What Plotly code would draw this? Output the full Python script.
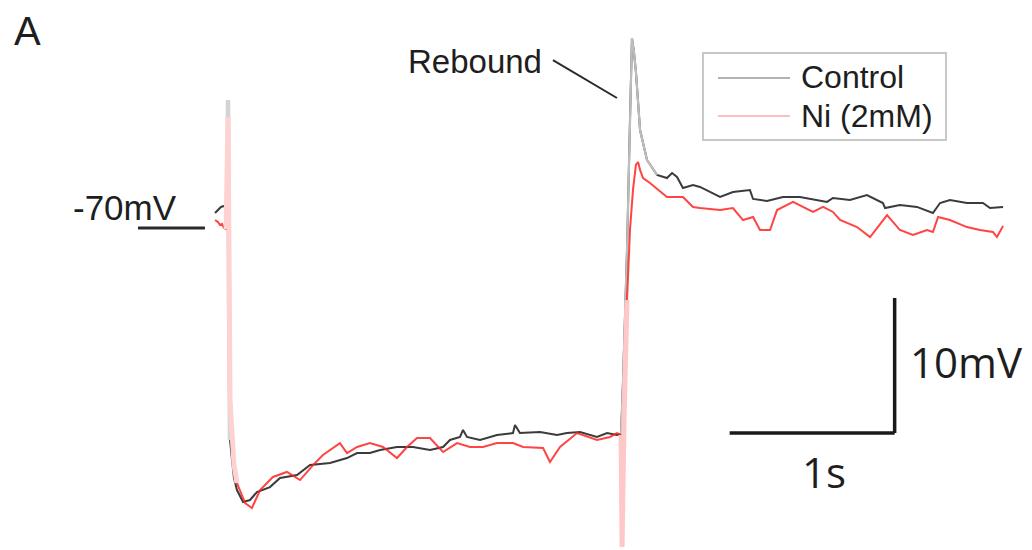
import plotly.graph_objects as go

# ---------------- data (time in s, membrane potential in mV) ----------------
ctrl_t = [0.091, 0.109, 0.127, 0.145, 0.164, 0.170, 0.176, 0.182, 0.194, 0.206,
          0.224, 0.261, 0.303, 0.345, 0.424, 0.485, 0.588, 0.667, 0.788, 0.891,
          0.952, 1.030, 1.091, 1.194, 1.291, 1.394, 1.473, 1.515, 1.576, 1.594,
          1.618, 1.697, 1.800, 1.897, 1.909, 1.939, 2.061, 2.164, 2.224, 2.303,
          2.406, 2.467, 2.527, 2.552, 2.564, 2.588, 2.606, 2.618, 2.630, 2.642,
          2.667, 2.709, 2.770, 2.830, 2.861, 2.891, 2.927, 2.988, 3.030, 3.152,
          3.230, 3.333, 3.352, 3.436, 3.533, 3.636, 3.800, 3.836, 3.939, 4.042,
          4.139, 4.152, 4.242, 4.345, 4.442, 4.485, 4.545, 4.648, 4.745, 4.788,
          4.867]
ctrl_v = [-68.89, -68.67, -68.44, -68.37, -68.30, -60.52, -75.33, -85.70, -87.19, -88.52,
          -89.41, -90.30, -90.15, -89.56, -89.19, -88.52, -88.30, -87.56, -87.41, -87.04,
          -86.67, -86.67, -86.44, -86.22, -86.22, -86.44, -86.22, -85.70, -85.48, -84.96,
          -85.48, -85.70, -85.33, -85.19, -84.59, -85.19, -85.11, -85.33, -85.19, -85.11,
          -85.48, -85.19, -85.33, -85.26, -81.26, -71.63, -62.00, -55.93, -56.96, -58.44,
          -62.74, -64.96, -66.07, -66.30, -65.93, -66.22, -67.04, -66.81, -66.96, -67.70,
          -67.33, -67.19, -67.85, -68.00, -67.70, -67.70, -68.07, -67.78, -67.93, -67.56,
          -68.15, -68.52, -68.30, -68.44, -68.89, -68.15, -67.93, -68.15, -68.15, -68.52,
          -68.44]

ni_t = [0.091, 0.109, 0.121, 0.133, 0.145, 0.158, 0.170, 0.182, 0.194, 0.206,
        0.224, 0.273, 0.315, 0.364, 0.442, 0.527, 0.606, 0.685, 0.745, 0.848,
        0.891, 0.952, 1.030, 1.109, 1.194, 1.255, 1.315, 1.394, 1.473, 1.558,
        1.636, 1.715, 1.800, 1.897, 1.958, 2.079, 2.121, 2.182, 2.285, 2.321,
        2.406, 2.485, 2.527, 2.552, 2.558, 2.570, 2.588, 2.606, 2.624, 2.642,
        2.655, 2.667, 2.685, 2.727, 2.830, 2.927, 2.988, 3.030, 3.152, 3.230,
        3.291, 3.352, 3.394, 3.455, 3.497, 3.594, 3.655, 3.715, 3.776, 3.836,
        3.879, 3.982, 4.061, 4.164, 4.242, 4.321, 4.406, 4.442, 4.473, 4.545,
        4.648, 4.727, 4.806, 4.830, 4.867]
ni_v = [-69.41, -69.56, -69.78, -69.70, -70.00, -70.07, -61.78, -82.74, -86.22, -87.56,
        -88.89, -90.37, -90.74, -89.41, -88.44, -88.07, -88.67, -87.56, -86.81, -85.93,
        -86.67, -86.22, -85.93, -86.22, -87.04, -86.22, -85.56, -85.56, -86.59, -85.93,
        -86.22, -86.22, -85.93, -85.93, -86.22, -86.30, -87.33, -86.22, -85.19, -85.33,
        -85.70, -85.48, -85.19, -85.33, -93.63, -84.22, -75.33, -70.15, -67.19, -65.33,
        -65.11, -65.70, -66.30, -66.67, -67.70, -67.70, -68.44, -68.52, -68.67, -68.52,
        -69.41, -69.19, -70.15, -70.15, -68.67, -68.07, -68.44, -68.81, -68.44, -68.81,
        -69.41, -69.93, -70.67, -69.04, -70.15, -70.52, -70.15, -70.30, -69.19, -69.41,
        -69.93, -70.15, -70.30, -70.67, -69.85]

series_names = ["Control", "Ni (2mM)"]
resting_mv = -70
scale_t = 1.0     # s
scale_v = 10.0    # mV

# stimulus-transient windows (s) drawn as light overlays
art1_ctrl = (0.164, 0.182)
art1_ni = (0.158, 0.262)
art2_ctrl = (2.552, 2.780)
art2_ni = (2.552, 2.590)

# ---------------- layout helpers ----------------
W, H = 1032, 550
OFF = 8  # page body margin offsets the figure inside the window
x_range = [(OFF - 200) / 165, (OFF + W - 200) / 165]
y_range = [-70 - (OFF + H - 228) / 13.5, -70 + (228 - OFF) / 13.5]


def px(x):
    return (x - OFF) / W


def py(y):
    return 1 - (y - OFF) / H


def window(ts, vs, lo, hi):
    pts = [(t, v) for t, v in zip(ts, vs) if lo <= t <= hi]
    return [p[0] for p in pts], [p[1] for p in pts]


fig = go.Figure()

fig.add_trace(go.Scatter(x=ctrl_t, y=ctrl_v, mode="lines", name=series_names[0],
                         line=dict(color="rgba(25,25,25,0.85)", width=2),
                         showlegend=False))

ct, cv = window(ctrl_t, ctrl_v, *art1_ctrl)
fig.add_trace(go.Scatter(x=ct, y=cv, mode="lines", showlegend=False,
                         line=dict(color="#d4d4d4", width=4.5)))
ct, cv = window(ctrl_t, ctrl_v, *art2_ctrl)
fig.add_trace(go.Scatter(x=ct, y=cv, mode="lines", showlegend=False,
                         line=dict(color="#bdbdbd", width=2.2)))

fig.add_trace(go.Scatter(x=ni_t, y=ni_v, mode="lines", name=series_names[1],
                         line=dict(color="rgba(255,35,35,0.85)", width=2),
                         showlegend=False))

nt, nv = window(ni_t, ni_v, *art1_ni)
fig.add_trace(go.Scatter(x=nt, y=nv, mode="lines", showlegend=False,
                         line=dict(color="#ffd2d2", width=5)))
nt, nv = window(ni_t, ni_v, *art2_ni)
fig.add_trace(go.Scatter(x=nt, y=nv, mode="lines", showlegend=False,
                         line=dict(color="#ffc8c8", width=5)))

shapes = []
# scale bars (data coordinates)
sb_t0, sb_v0 = 3.21, -85.19
shapes.append(dict(type="line", xref="x", yref="y", x0=sb_t0, x1=sb_t0 + scale_t,
                   y0=sb_v0, y1=sb_v0, line=dict(color="#1a1a1a", width=3.5)))
shapes.append(dict(type="line", xref="x", yref="y", x0=sb_t0 + scale_t, x1=sb_t0 + scale_t,
                   y0=sb_v0, y1=sb_v0 + scale_v, line=dict(color="#1a1a1a", width=3.5)))
# -70 mV reference line
shapes.append(dict(type="line", xref="x", yref="y", x0=-0.376, x1=0.03,
                   y0=resting_mv, y1=resting_mv, line=dict(color="#2a2a2a", width=3)))
# rebound leader line
shapes.append(dict(type="line", xref="x", yref="y", x0=2.139, x1=2.527,
                   y0=-57.56, y1=-60.37, line=dict(color="#2a2a2a", width=2)))
# manual legend
shapes.append(dict(type="rect", xref="paper", yref="paper", x0=px(703), x1=px(946),
                   y0=py(140), y1=py(53), line=dict(color="#c8c8c8", width=2),
                   fillcolor="rgba(0,0,0,0)"))
shapes.append(dict(type="line", xref="paper", yref="paper", x0=px(718), x1=px(790),
                   y0=py(78), y1=py(78), line=dict(color="#9a9a9a", width=1.4)))
shapes.append(dict(type="line", xref="paper", yref="paper", x0=px(718), x1=px(790),
                   y0=py(116), y1=py(116), line=dict(color="#ffa8a8", width=1.4)))

sans = "Liberation Sans, Arial, sans-serif"
ann = []


def label(text, x, y, size, family=sans, xanchor="center"):
    ann.append(dict(text=text, xref="paper", yref="paper", x=px(x), y=py(y),
                    xanchor=xanchor, yanchor="middle", showarrow=False,
                    font=dict(family=family, size=size, color="#1e1e1e")))


label("A", 27, 31, 40)
label("-70mV", 125, 207, 35)
label("Rebound", 475, 62, 33)
label(series_names[0], 799, 77, 32, xanchor="left")
label(series_names[1], 799, 116, 32, xanchor="left")
label("10mV", 966, 361, 42, family="Open Sans, sans-serif")
label("1s", 824, 471, 42, family="Open Sans, sans-serif")

fig.update_layout(
    width=W, height=H,
    margin=dict(l=0, r=0, t=0, b=0),
    paper_bgcolor="white", plot_bgcolor="white",
    xaxis=dict(range=x_range, visible=False, fixedrange=True),
    yaxis=dict(range=y_range, visible=False, fixedrange=True),
    shapes=shapes, annotations=ann, showlegend=False,
)

fig.write_html("out.html", config={"displayModeBar": False})
